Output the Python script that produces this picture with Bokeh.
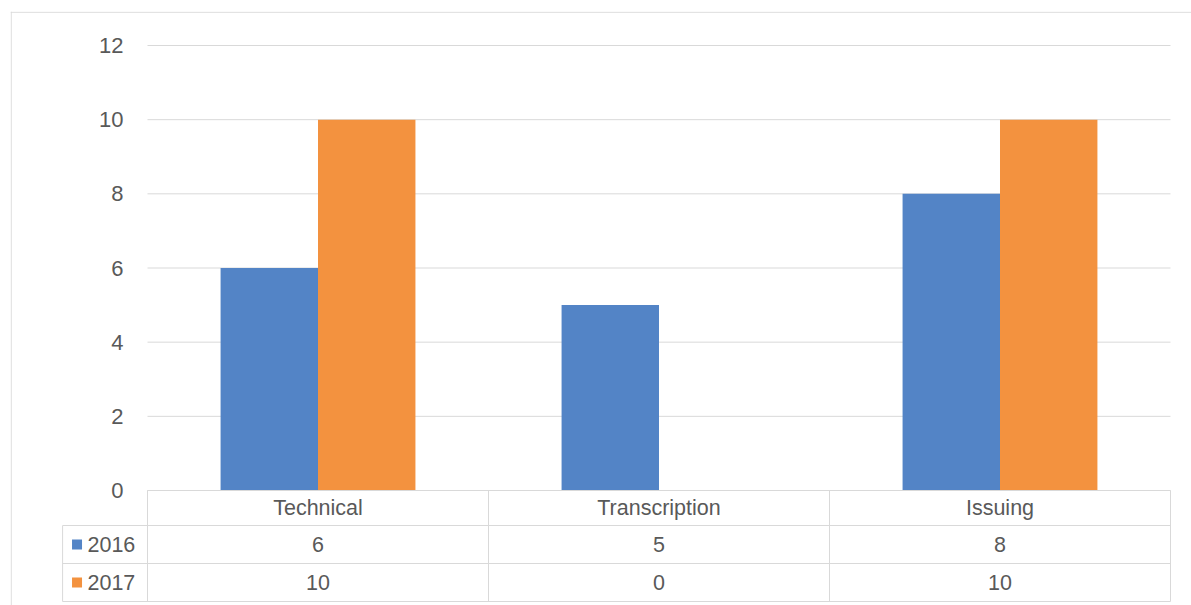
from bokeh.plotting import figure
from bokeh.models import ColumnDataSource, Range1d, LinearAxis, FixedTicker, Span
from bokeh.core.properties import value
from bokeh.embed import file_html
from bokeh.resources import INLINE

categories = ["Technical", "Transcription", "Issuing"]
series_names = ["2016", "2017"]
values_2016 = [6, 5, 8]
values_2017 = [10, 0, 10]
y_ticks = [0, 2, 4, 6, 8, 10, 12]

BLUE = "#5384C6"
ORANGE = "#F3923F"
TEXT = "#595959"
LINE = "#D9D9D9"
FONT = "Liberation Sans"

n = len(categories)
bar_w = 1.0 / 3.5  # Excel gap width 150%
centers = [i + 0.5 for i in range(n)]

x_start, x_end = -0.4018, 3.0616
y_start, y_end = -3.101, 12.917

p = figure(width=1191, height=605, output_backend="svg", toolbar_location=None,
           x_range=Range1d(x_start, x_end), y_range=Range1d(y_start, y_end),
           x_axis_location=None, y_axis_location=None,
           min_border_left=10, min_border_top=11, min_border_right=0, min_border_bottom=0)
p.background_fill_color = "white"
p.border_fill_color = "white"
p.outline_line_color = None
p.xgrid.visible = False
p.ygrid.visible = False

# chart-area border (top and left visible only)
p.add_layout(Span(location=x_start + 0.002, dimension="height", line_color=LINE, line_width=1))
p.add_layout(Span(location=y_end - 0.02, dimension="width", line_color=LINE, line_width=1))

# gridlines across plot area
p.segment(x0=[0] * len(y_ticks), x1=[n] * len(y_ticks), y0=y_ticks, y1=y_ticks,
          line_color=LINE, line_width=1)

# y axis inside the frame at x=0
yax = LinearAxis(fixed_location=0, ticker=FixedTicker(ticks=y_ticks))
yax.axis_line_color = None
yax.major_tick_line_color = None
yax.minor_tick_line_color = None
yax.major_tick_out = 0
yax.major_tick_in = 0
yax.major_label_standoff = 24
yax.major_label_text_font = FONT
yax.major_label_text_font_size = "22px"
yax.major_label_text_color = TEXT
p.add_layout(yax, "left")

# bars
src = ColumnDataSource(dict(
    x16=[c - bar_w / 2 for c in centers],
    x17=[c + bar_w / 2 for c in centers],
    v16=values_2016, v17=values_2017))
p.vbar(x="x16", top="v16", bottom=0, width=bar_w, source=src, fill_color=BLUE, line_color=None)
p.vbar(x="x17", top="v17", bottom=0, width=bar_w, source=src, fill_color=ORANGE, line_color=None)

# data table
row_lines = [0, -0.944, -1.969, -2.993]
row_mid = [-0.472, -1.456, -2.481]
left_x = -0.249
p.segment(x0=[0, left_x, left_x, left_x], x1=[n] * 4, y0=row_lines, y1=row_lines,
          line_color=LINE, line_width=1)
p.segment(x0=list(range(n + 1)), x1=list(range(n + 1)),
          y0=[row_lines[0]] * (n + 1), y1=[row_lines[-1]] * (n + 1),
          line_color=LINE, line_width=1)
p.segment(x0=[left_x], x1=[left_x], y0=[row_lines[1]], y1=[row_lines[-1]],
          line_color=LINE, line_width=1)

p.text(x=centers, y=[row_mid[0]] * n, text=categories, text_align="center",
       text_baseline="middle", text_font=value(FONT), text_font_size="21.5px", text_color=TEXT)
p.text(x=centers, y=[row_mid[1]] * n, text=[str(v) for v in values_2016], text_align="center",
       text_baseline="middle", text_font=value(FONT), text_font_size="21.5px", text_color=TEXT)
p.text(x=centers, y=[row_mid[2]] * n, text=[str(v) for v in values_2017], text_align="center",
       text_baseline="middle", text_font=value(FONT), text_font_size="21.5px", text_color=TEXT)

# legend keys
p.scatter(x=[-0.2067, -0.2067], y=row_mid[1:], marker="square", size=10,
          fill_color=[BLUE, ORANGE], line_color=None)
p.text(x=[-0.176, -0.176], y=row_mid[1:], text=series_names, text_align="left",
       text_baseline="middle", text_font=value(FONT), text_font_size="21.5px", text_color=TEXT)

open("out.html", "w").write(file_html(p, INLINE))
